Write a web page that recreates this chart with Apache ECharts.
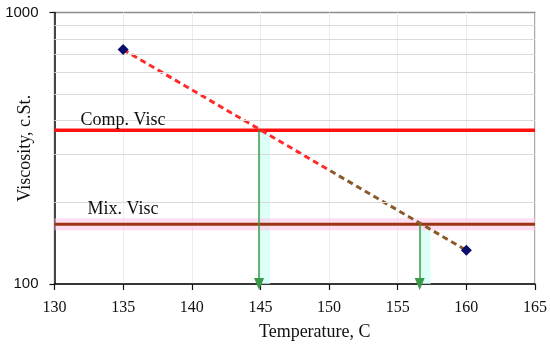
<!DOCTYPE html>
<html>
<head>
<meta charset="utf-8">
<script src="https://cdn.jsdelivr.net/npm/echarts@6/dist/echarts.min.js"></script>
<style>
html,body{margin:0;padding:0;background:#fff;}
#c{width:550px;height:347px;}
</style>
</head>
<body>
<div id="c"></div>
<script>
// ---- data ----
const measuredTemps = [135, 160];
const measuredVisc = [730, 133];
const compVisc = 368;
const mixVisc = 166;
const arrowTemps = [144.9, 156.6];
const arrowLevels = [compVisc, mixVisc];
const colorBreakTemp = 150;
const xMin = 130, xMax = 165, xStep = 5;
const yMin = 100, yMax = 1000;
const yMinorGrid = [200, 300, 400, 500, 600, 700, 800, 900];
const compLabel = 'Comp. Visc';
const mixLabel = 'Mix. Visc';
const xTitle = 'Temperature, C';
const yTitle = 'Viscosity, c.St.';

const serif = '"Liberation Serif","Times New Roman",serif';
const sans = '"Liberation Sans",Arial,sans-serif';

const chart = echarts.init(document.getElementById('c'), null, {renderer: 'canvas'});

const option = {
  animation: false,
  backgroundColor: '#fff',
  grid: {left: 54.5, right: 15, top: 12.5, bottom: 63, containLabel: false, outerBoundsMode: 'none',
         show: true, borderColor: '#8c8c8c', borderWidth: 1.5, backgroundColor: 'transparent'},
  xAxis: {
    type: 'value', min: xMin, max: xMax, interval: xStep,
    name: xTitle, nameLocation: 'middle', nameGap: 39, nameMoveOverlap: false,
    nameTextStyle: {fontFamily: serif, fontSize: 18, color: '#111', padding: [0, 0, 0, 40]},
    axisLine: {show: true, lineStyle: {color: '#111', width: 1.5}},
    axisTick: {show: true, inside: false, length: 6, lineStyle: {color: '#111', width: 1.2}},
    axisLabel: {fontFamily: serif, fontSize: 16, color: '#111', margin: 16},
    splitLine: {show: true, lineStyle: {color: '#ececec', width: 1}}
  },
  yAxis: {
    type: 'log', logBase: 10, min: yMin, max: yMax,
    name: yTitle, nameLocation: 'middle', nameGap: 20, nameMoveOverlap: false,
    nameTextStyle: {fontFamily: serif, fontSize: 18, color: '#111'},
    axisLine: {show: true, lineStyle: {color: '#111', width: 1.5}},
    axisTick: {show: true, inside: false, length: 5, lineStyle: {color: '#111', width: 1.2}},
    axisLabel: {fontFamily: sans, fontSize: 15, color: '#111', margin: 16, formatter: v => String(v)},
    splitLine: {show: false}
  },
  series: [
    { // minor grid lines + cyan glows
      type: 'line', data: [], z: 1, silent: true,
      markLine: {
        silent: true, symbol: ['none', 'none'], animation: false,
        label: {show: false},
        lineStyle: {color: '#dadada', width: 1, type: 'solid'},
        data: yMinorGrid.map(v => ({yAxis: v}))
      },
      markArea: {
        silent: true,
        itemStyle: {color: 'rgba(205,255,245,0.7)'},
        data: arrowTemps.map((t, i) => [{coord: [t, yMin]}, {coord: [t + 0.8, arrowLevels[i]]}])
      }
    },
    { // pink glow under mix line
      type: 'line', z: 2, silent: true, symbol: 'none',
      data: [[xMin, mixVisc], [xMax, mixVisc]],
      lineStyle: {color: 'rgba(255,195,230,0.55)', width: 12}
    },
    { // comp visc
      type: 'line', z: 3, silent: true, symbol: 'none',
      data: [[xMin, compVisc], [xMax, compVisc]],
      lineStyle: {color: '#ff1010', width: 3.5}
    },
    { // mix visc
      type: 'line', z: 3, silent: true, symbol: 'none',
      data: [[xMin, mixVisc], [xMax, mixVisc]],
      lineStyle: {color: '#9a3412', width: 3}
    },
    { // dashed trend
      id: 'trend',
      type: 'line', z: 4, silent: true, symbol: 'none',
      data: measuredTemps.map((t, i) => [t, measuredVisc[i]]),
      lineStyle: {width: 3, type: [6, 4], color: '#ff2a2a'}
    },
    { // arrows
      type: 'line', data: [], z: 5, silent: true,
      markLine: {
        silent: true, symbol: ['none', 'triangle'], symbolSize: [10, 12], animation: false,
        label: {show: false},
        lineStyle: {color: '#3a9a4a', width: 1.5, type: 'solid'},
        itemStyle: {color: '#3a9a4a'},
        data: arrowTemps.map((t, i) => [{coord: [t, arrowLevels[i]]}, {coord: [t, yMin]}])
      }
    },
    { // measured points
      type: 'scatter', z: 6, silent: true,
      symbol: 'diamond', symbolSize: 11,
      itemStyle: {color: '#0d0d6b', opacity: 1},
      data: measuredTemps.map((t, i) => [t, measuredVisc[i]])
    }
  ]
};
chart.setOption(option);

const pC = chart.convertToPixel({gridIndex: 0}, [xMin, compVisc]);
const pM = chart.convertToPixel({gridIndex: 0}, [xMin, mixVisc]);
const pA = chart.convertToPixel({gridIndex: 0}, [measuredTemps[0], measuredVisc[0]]);
const pB = chart.convertToPixel({gridIndex: 0}, [measuredTemps[1], measuredVisc[1]]);
const pBreak = chart.convertToPixel({gridIndex: 0}, [colorBreakTemp, yMin]);
const f = (pBreak[0] - pA[0]) / (pB[0] - pA[0]);
chart.setOption({
  series: [{
    id: 'trend',
    lineStyle: {
      color: {
        type: 'linear', global: true, x: pA[0], y: 0, x2: pB[0], y2: 0,
        colorStops: [
          {offset: 0, color: '#ff2a2a'}, {offset: f, color: '#ff2a2a'},
          {offset: f, color: '#8a5a28'}, {offset: 1, color: '#8a5a28'}
        ]
      }
    }
  }],
  graphic: [
    {type: 'text', left: pC[0] + 26, top: pC[1] - 19, z: 10,
     style: {text: compLabel, font: '18px ' + serif, fill: '#111'}},
    {type: 'text', left: pM[0] + 33, top: pM[1] - 24, z: 10,
     style: {text: mixLabel, font: '18px ' + serif, fill: '#111'}}
  ]
});
</script>
</body>
</html>
